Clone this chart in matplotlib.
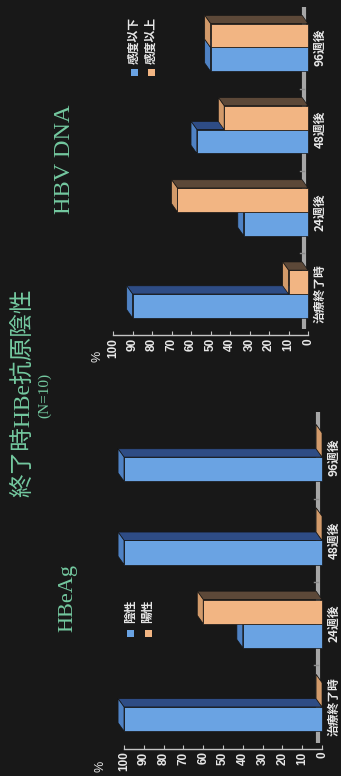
import matplotlib
matplotlib.use("Agg")
import matplotlib.pyplot as plt
from matplotlib.patches import Polygon, Rectangle

# ---- data -------------------------------------------------------------
categories = ["治療終了時", "24週後", "48週後", "96週後"]
hbeag_negative = [100, 40, 100, 100]   # 陰性 (%)
hbeag_positive = [0, 60, 0, 0]         # 陽性 (%)
dna_below = [90, 33, 57, 50]           # 感度以下 (%)
dna_above = [10, 67, 43, 50]           # 感度以上 (%)
value_ticks = [0, 10, 20, 30, 40, 50, 60, 70, 80, 90, 100]
hbeag_legend = ["陰性", "陽性"]
dna_legend = ["感度以下", "感度以上"]
title_text = "終了時HBe抗原陰性"
subtitle_text = "(N=10)"

# ---- style --------------------------------------------------------------
W, H, DPI = 341, 776, 100
BG = "#181818"
TXT = "#e8e8e8"
GREEN = "#74c9a0"
BLUE = dict(front="#6aa3e3", top="#2e4c85", end="#4f82c4")
ORANGE = dict(front="#f2b583", top="#5c4838", end="#d29a6a")
BAR_H = 0.29        # bar thickness in category units
DEPTH_V = 3.0       # 3-D depth along the value axis
DEPTH_C = 0.1       # 3-D depth along the category axis
CJK = ["Noto Sans CJK JP", "DejaVu Sans"]
SERIF = ["Liberation Serif", "Noto Sans CJK JP"]

fig = plt.figure(figsize=(W / DPI, H / DPI), dpi=DPI, facecolor=BG)


def px_axes(left, top, right, bottom):
    return fig.add_axes([left / W, 1 - bottom / H, (right - left) / W, (bottom - top) / H])


def fxy(x, y):
    return x / W, 1 - y / H


def bar3d(ax, value, c0, c1, colors):
    edge = dict(edgecolor="#151515", linewidth=0.5, zorder=4)
    ax.add_patch(Rectangle((0, c0), value, c1 - c0, facecolor=colors["front"], **edge))
    ax.add_patch(Polygon([(DEPTH_V, c1 + DEPTH_C), (0, c1), (value, c1),
                          (value + DEPTH_V, c1 + DEPTH_C)],
                         closed=True, facecolor=colors["top"], **edge))
    ax.add_patch(Polygon([(value, c0), (value, c1), (value + DEPTH_V, c1 + DEPTH_C),
                          (value + DEPTH_V, c0 + DEPTH_C)],
                         closed=True, facecolor=colors["end"], **edge))


def panel(ax, lower, upper, ylim):
    ax.set_facecolor("none")
    ax.set_xlim(105, -2)
    ax.set_ylim(*ylim)
    for side in ("top", "left", "right"):
        ax.spines[side].set_visible(False)
    ax.spines["bottom"].set_bounds(0, 100)
    ax.spines["bottom"].set_color("#c4c4c4")
    ax.spines["bottom"].set_linewidth(1.0)

    ax.set_xticks(value_ticks)
    ax.set_xticklabels([str(v) for v in value_ticks], rotation=90,
                       fontfamily="Liberation Sans", fontweight="bold",
                       fontsize=8.5, color=TXT)
    ax.tick_params(axis="x", direction="in", length=3, width=0.8,
                   color="#c4c4c4", pad=2)

    ax.yaxis.set_ticks_position("right")
    ax.set_yticks(range(len(categories)))
    ax.set_yticklabels(categories, rotation=90, va="center",
                       fontfamily=CJK, fontweight="bold", fontsize=8.5, color=TXT)
    ax.tick_params(axis="y", length=0, pad=1)

    # floor edge of the category axis
    ax.plot([1.8, 1.8], [ylim[0] + 0.07, ylim[1] - 0.06], color="#a6a6a6",
            lw=3, solid_capstyle="butt", zorder=1)
    for b in (0.5, 1.5, 2.5):
        ax.plot([1.8, 4.0], [b, b], color="#8a8a8a", lw=1, zorder=1)

    for i, (lo, up) in enumerate(zip(lower, upper)):
        bar3d(ax, lo, i - BAR_H, i, BLUE)
        bar3d(ax, up, i, i + BAR_H, ORANGE)


def legend(x_positions, sq_y, text_y, labels):
    for x, lab, col in zip(x_positions, labels, (BLUE["front"], ORANGE["front"])):
        fx, fy = fxy(x - 3.5, sq_y + 3.5)
        fig.patches.append(Rectangle((fx, fy), 7 / W, 7 / H, transform=fig.transFigure,
                                     facecolor=col, edgecolor="none"))
        tx, ty = fxy(x, text_y)
        fig.text(tx, ty, lab, rotation=90, ha="center", va="bottom",
                 fontfamily=CJK, fontweight="bold", fontsize=8.5, color=TXT)


# HBeAg panel (lower part of the page)
ax1 = px_axes(114.1, 407.1, 326.0, 748.6)
panel(ax1, hbeag_negative, hbeag_positive, (-0.5, 3.6))

# HBV DNA panel (upper part of the page)
ax2 = px_axes(103.3, 2.2, 311.9, 335.1)
panel(ax2, dna_below, dna_above, (-0.5, 3.55))

legend((130, 148), 633, 623, hbeag_legend)
legend((134, 151.5), 72.5, 64, dna_legend)

# titles and axis units
fig.text(*fxy(23, 393), title_text, rotation=90, ha="center", va="center",
         fontfamily=SERIF, fontsize=17, color=GREEN)
fig.text(*fxy(45, 395), subtitle_text, rotation=90, ha="center", va="center",
         fontfamily=SERIF, fontsize=11, color=GREEN)
fig.text(*fxy(68, 598), "HBeAg", rotation=90, ha="center", va="center",
         fontfamily=SERIF, fontsize=16, color=GREEN)
fig.text(*fxy(64, 159), "HBV DNA", rotation=90, ha="center", va="center",
         fontfamily=SERIF, fontsize=17.5, color=GREEN)
fig.text(*fxy(100, 766), "%", rotation=90, ha="center", va="center",
         fontfamily="Liberation Sans", fontsize=9, color=TXT)
fig.text(*fxy(97, 356), "%", rotation=90, ha="center", va="center",
         fontfamily="Liberation Sans", fontsize=9, color=TXT)

fig.savefig("out.png", dpi=DPI, facecolor=BG)
